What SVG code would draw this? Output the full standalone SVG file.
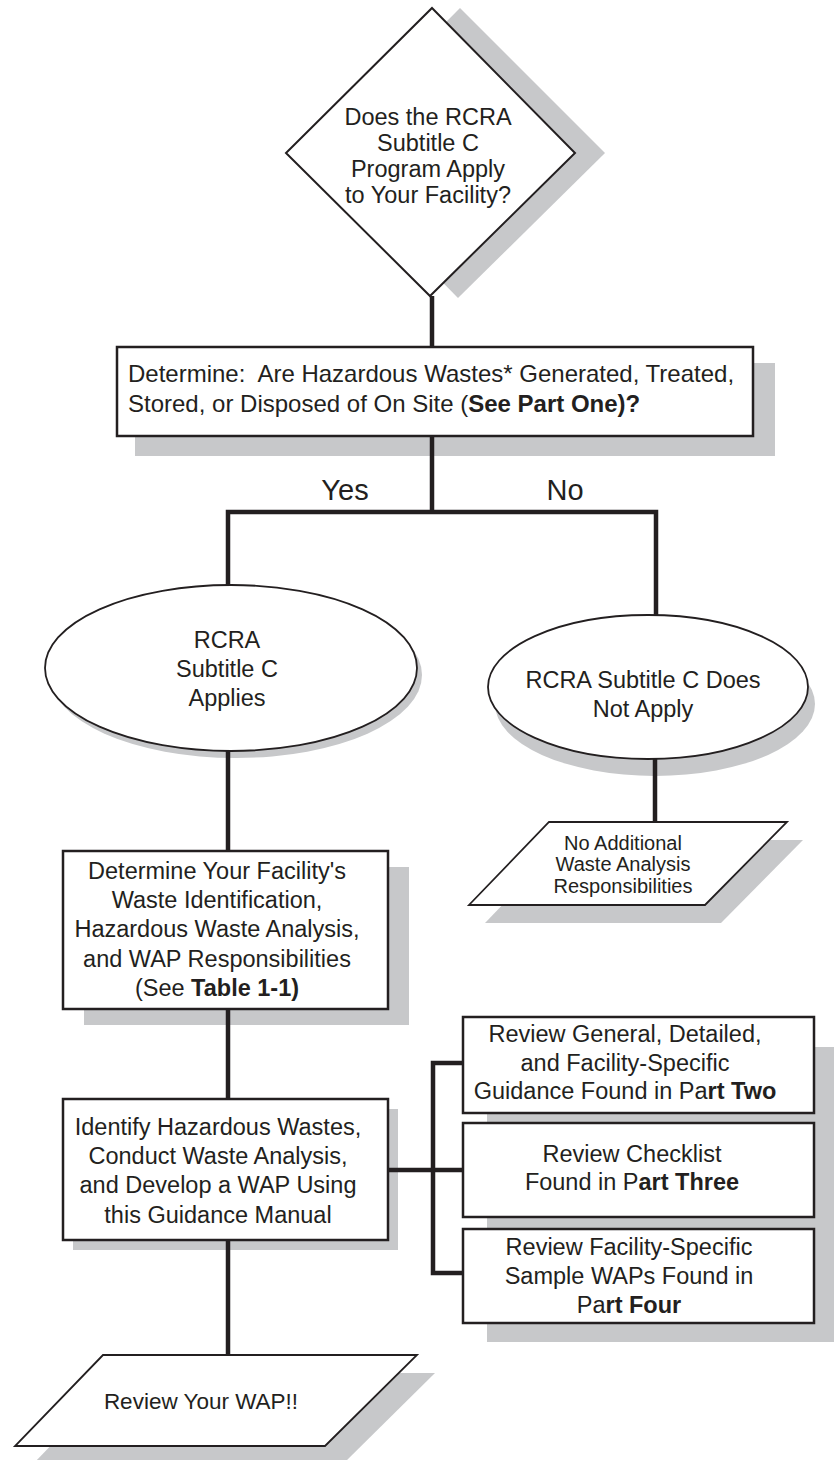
<svg xmlns="http://www.w3.org/2000/svg" width="835" height="1460" viewBox="0 0 835 1460">
<style>
.sh{fill:#c7c8ca;stroke:none}
.bx{fill:#fff;stroke:#231f20;stroke-width:2.5}
.el{fill:#fff;stroke:#231f20;stroke-width:1.8}
.pg{fill:#fff;stroke:#231f20;stroke-width:1.8}
.t{font-family:"Liberation Sans",Arial,Helvetica,sans-serif;font-size:23.5px;fill:#231f20;text-anchor:middle}
.b{font-weight:bold}
.cn{fill:none;stroke:#231f20;stroke-width:4.5;stroke-linejoin:miter;stroke-linecap:butt}
</style>
<rect width="835" height="1460" fill="#fff"/>
<g id="n-diamond">
<polygon class="sh" points="460,8 605,153 458,298 316,153"/>
<polygon class="bx" points="432,8 575,153 430,296 286,153" style="stroke-width:2"/>
<text class="t" x="428"><tspan x="428" y="125">Does the RCRA</tspan><tspan x="428" y="151">Subtitle C</tspan><tspan x="428" y="177">Program Apply</tspan><tspan x="428" y="203">to Your Facility?</tspan></text>
</g>
<g id="n-determine">
<rect class="sh" x="135" y="363" width="640" height="93"/>
<rect class="bx" x="117" y="347" width="636" height="89"/>
<text class="t" style="font-size:24px;text-anchor:start" x="128" y="382" xml:space="preserve">Determine:  Are Hazardous Wastes* Generated, Treated,</text>
<text class="t" style="font-size:24px;text-anchor:start" x="128" y="412">Stored, or Disposed of On Site (<tspan class="b">See Part One)?</tspan></text>
</g>
<g id="labels">
<text class="t" style="font-size:29px" x="345" y="500">Yes</text>
<text class="t" style="font-size:29px" x="565" y="500">No</text>
</g>
<g id="n-applies">
<ellipse class="sh" cx="236" cy="675" rx="186" ry="83"/>
<ellipse class="el" cx="231" cy="668" rx="186" ry="83"/>
<text class="t"><tspan x="227" y="648">RCRA</tspan><tspan x="227" y="677">Subtitle C</tspan><tspan x="227" y="706">Applies</tspan></text>
</g>
<g id="n-notapply">
<ellipse class="sh" cx="655" cy="704" rx="160" ry="72"/>
<ellipse class="el" cx="648" cy="687" rx="160" ry="72"/>
<text class="t"><tspan x="643" y="688">RCRA Subtitle C Does</tspan><tspan x="643" y="717">Not Apply</tspan></text>
</g>
<g id="n-noadditional">
<polygon class="sh" points="565,840 803,840 721,923 485,923"/>
<polygon class="pg" points="549,822 787,822 705,905 469,905"/>
<text class="t" style="font-size:20px"><tspan x="623" y="850">No Additional</tspan><tspan x="623" y="871">Waste Analysis</tspan><tspan x="623" y="893">Responsibilities</tspan></text>
</g>
<g id="n-responsibilities">
<rect class="sh" x="84" y="867" width="325" height="158"/>
<rect class="bx" x="63" y="851" width="325" height="158"/>
<text class="t"><tspan x="217" y="879">Determine Your Facility's</tspan><tspan x="217" y="908">Waste Identification,</tspan><tspan x="217" y="937">Hazardous Waste Analysis,</tspan><tspan x="217" y="967">and WAP Responsibilities</tspan><tspan x="217" y="996">(See <tspan class="b">Table 1-1)</tspan></tspan></text>
</g>
<g id="n-identify">
<rect class="sh" x="73" y="1109" width="325" height="141"/>
<rect class="bx" x="63" y="1099" width="325" height="141"/>
<text class="t"><tspan x="218" y="1135">Identify Hazardous Wastes,</tspan><tspan x="218" y="1164">Conduct Waste Analysis,</tspan><tspan x="218" y="1193">and Develop a WAP Using</tspan><tspan x="218" y="1223">this Guidance Manual</tspan></text>
</g>
<g id="n-review-shadow">
<rect class="sh" x="487" y="1047" width="347" height="295"/>
</g>
<g id="n-part2">
<rect class="bx" x="463" y="1017" width="351" height="96"/>
<text class="t"><tspan x="625" y="1042">Review General, Detailed,</tspan><tspan x="625" y="1071">and Facility-Specific</tspan><tspan x="625" y="1099">Guidance Found in Pa<tspan class="b">rt Two</tspan></tspan></text>
</g>
<g id="n-part3">
<rect class="bx" x="463" y="1123" width="351" height="94"/>
<text class="t"><tspan x="632" y="1162">Review Checklist</tspan><tspan x="632" y="1190">Found in P<tspan class="b">art Three</tspan></tspan></text>
</g>
<g id="n-part4">
<rect class="bx" x="463" y="1229" width="351" height="94"/>
<text class="t"><tspan x="629" y="1255">Review Facility-Specific</tspan><tspan x="629" y="1284">Sample WAPs Found in</tspan><tspan x="629" y="1313">Pa<tspan class="b">rt Four</tspan></tspan></text>
</g>
<g id="n-reviewwap">
<polygon class="sh" points="121,1373 435,1373 343,1464 33,1464"/>
<polygon class="pg" points="103,1355 417,1355 325,1446 15,1446"/>
<text class="t" style="font-size:22.5px" x="201" y="1409">Review Your WAP!!</text>
</g>
<g id="connectors">
<path class="cn" d="M432,296 V347"/>
<path class="cn" d="M432,436 V512"/>
<path class="cn" d="M228,585 V512 H656 V615"/>
<path class="cn" d="M228,751 V851"/>
<path class="cn" d="M655,759 V822"/>
<path class="cn" d="M228,1009 V1099"/>
<path class="cn" d="M228,1240 V1355"/>
<path class="cn" d="M388,1170 H463"/>
<path class="cn" d="M463,1063 H433 V1273 H463"/>
</g>
</svg>
